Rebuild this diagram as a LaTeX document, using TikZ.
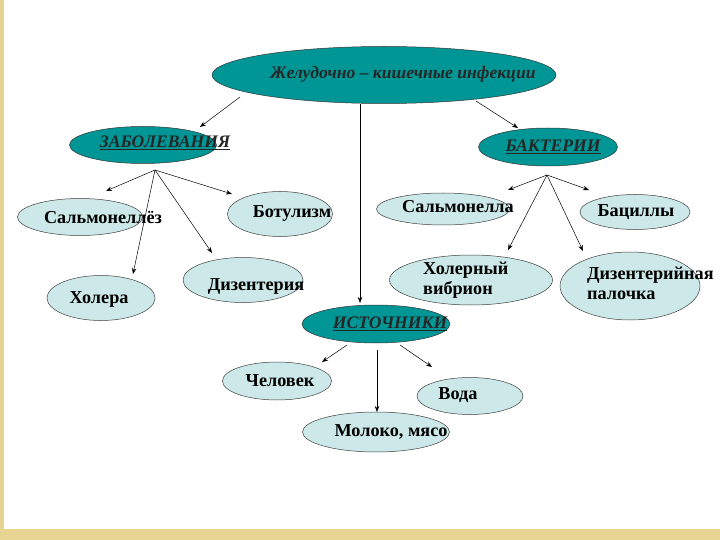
\documentclass[tikz,border=0pt]{standalone}
\usepackage{fontspec}
\setmainfont{Liberation Serif}
\usetikzlibrary{shapes.geometric,arrows.meta}
\definecolor{tealdark}{RGB}{0,150,150}
\definecolor{lightcyan}{RGB}{204,232,232}
\definecolor{goldstrip}{RGB}{232,212,146}
\begin{document}
\begin{tikzpicture}[x=1pt,y=-1pt,
 bubble/.style={ellipse,draw=black!75,line width=0.5pt,fill=lightcyan,inner sep=0pt},
 head/.style={ellipse,draw=black!80,line width=0.5pt,fill=tealdark,inner sep=0pt},
 lbl/.style={font=\fontsize{18.2}{20}\selectfont\bfseries,inner sep=0pt},
 hlbl/.style={font=\fontsize{17.6}{20}\selectfont\bfseries\itshape,inner sep=0pt,text=black!85},
 conn/.style={line width=0.5pt,-{Stealth[length=6pt,width=4.5pt]}}]
\useasboundingbox (0,0) rectangle (720,540);
% slide frame
\fill[white] (0,0) rectangle (720,540);
\fill[goldstrip] (0,0) rectangle (4,540);
\fill[goldstrip] (0,529) rectangle (720,540);

% main and heading ellipses
\node[head,minimum width=344pt,minimum height=57pt] (main) at (384,75) {};
\node[hlbl] (maint) at (403,74) {Желудочно – кишечные инфекции};
\node[head,minimum width=147pt,minimum height=37pt] (zab) at (143,145) {};
\node[hlbl] (zabt) at (165,143) {\underline{ЗАБОЛЕВАНИЯ}};
\node[head,minimum width=139pt,minimum height=38pt] (bak) at (548,147) {};
\node[hlbl] (bakt) at (553,147) {\underline{БАКТЕРИИ}};
\node[head,minimum width=148pt,minimum height=38pt] (ist) at (376,324) {};
\node[hlbl] (istt) at (390,324) {\underline{ИСТОЧНИКИ}};

% diseases
\node[bubble,minimum width=125pt,minimum height=37pt] (salz) at (80,217) {};
\node[lbl] (salzt) at (103,218) {Сальмонеллёз};
\node[bubble,minimum width=105pt,minimum height=45pt] (bot) at (280,214) {};
\node[lbl] (bott) at (292,214) {Ботулизм};
\node[bubble,minimum width=108pt,minimum height=45pt] (hol) at (101,298) {};
\node[lbl] (holt) at (99,299) {Холера};
\node[bubble,minimum width=120pt,minimum height=45pt] (diz) at (243,280) {};
\node[lbl] (dizt) at (256,286) {Дизентерия};

% bacteria
\node[bubble,minimum width=133pt,minimum height=32pt] (sal) at (443,209) {};
\node[lbl] (salt) at (458,207) {Сальмонелла};
\node[bubble,minimum width=110pt,minimum height=35pt] (bac) at (635,212) {};
\node[lbl] (bact) at (636,212) {Бациллы};
\node[bubble,minimum width=163pt,minimum height=50pt] (vib) at (471,280) {};
\node[lbl,anchor=west] (vibt1) at (423,270) {Холерный};
\node[lbl,anchor=west] (vibt2) at (423,290) {вибрион};
\node[bubble,minimum width=140pt,minimum height=68pt] (pal) at (630,286) {};
\node[lbl,anchor=west] (palt1) at (587,275) {Дизентерийная};
\node[lbl,anchor=west] (palt2) at (587,295) {палочка};

% sources
\node[bubble,minimum width=109pt,minimum height=38pt] (chel) at (277,381) {};
\node[lbl] (chelt) at (280,381) {Человек};
\node[bubble,minimum width=106pt,minimum height=37pt] (voda) at (470,396) {};
\node[lbl] (vodat) at (458,395) {Вода};
\node[bubble,minimum width=147pt,minimum height=40pt] (mol) at (376,432) {};
\node[lbl] (molt) at (391,432) {Молоко, мясо};

% connector points
\coordinate (m1) at (240,97);  \coordinate (m1e) at (200,127);
\coordinate (m2) at (476,101); \coordinate (m2e) at (518,128);
\coordinate (m3) at (360,104); \coordinate (m3e) at (360,303);
\coordinate (zo) at (155,170);
\coordinate (z1) at (106,191); \coordinate (z2) at (232,194);
\coordinate (z3) at (133,274); \coordinate (z4) at (212,253);
\coordinate (bo) at (547,175);
\coordinate (b1) at (508,190); \coordinate (b2) at (589,190);
\coordinate (b3) at (508,250); \coordinate (b4) at (583,251);
\coordinate (i1o) at (347,345); \coordinate (i1) at (322,362);
\coordinate (i2o) at (377,350); \coordinate (i2) at (377,412);
\coordinate (i3o) at (400,345); \coordinate (i3) at (432,367);

\draw[conn] (m1) -- (m1e);
\draw[conn] (m2) -- (m2e);
\draw[conn] (m3) -- (m3e);
\foreach \t in {z1,z2,z3,z4} \draw[conn] (zo) -- (\t);
\foreach \t in {b1,b2,b3,b4} \draw[conn] (bo) -- (\t);
\draw[conn] (i1o) -- (i1);
\draw[conn] (i2o) -- (i2);
\draw[conn] (i3o) -- (i3);
\end{tikzpicture}
\end{document}
